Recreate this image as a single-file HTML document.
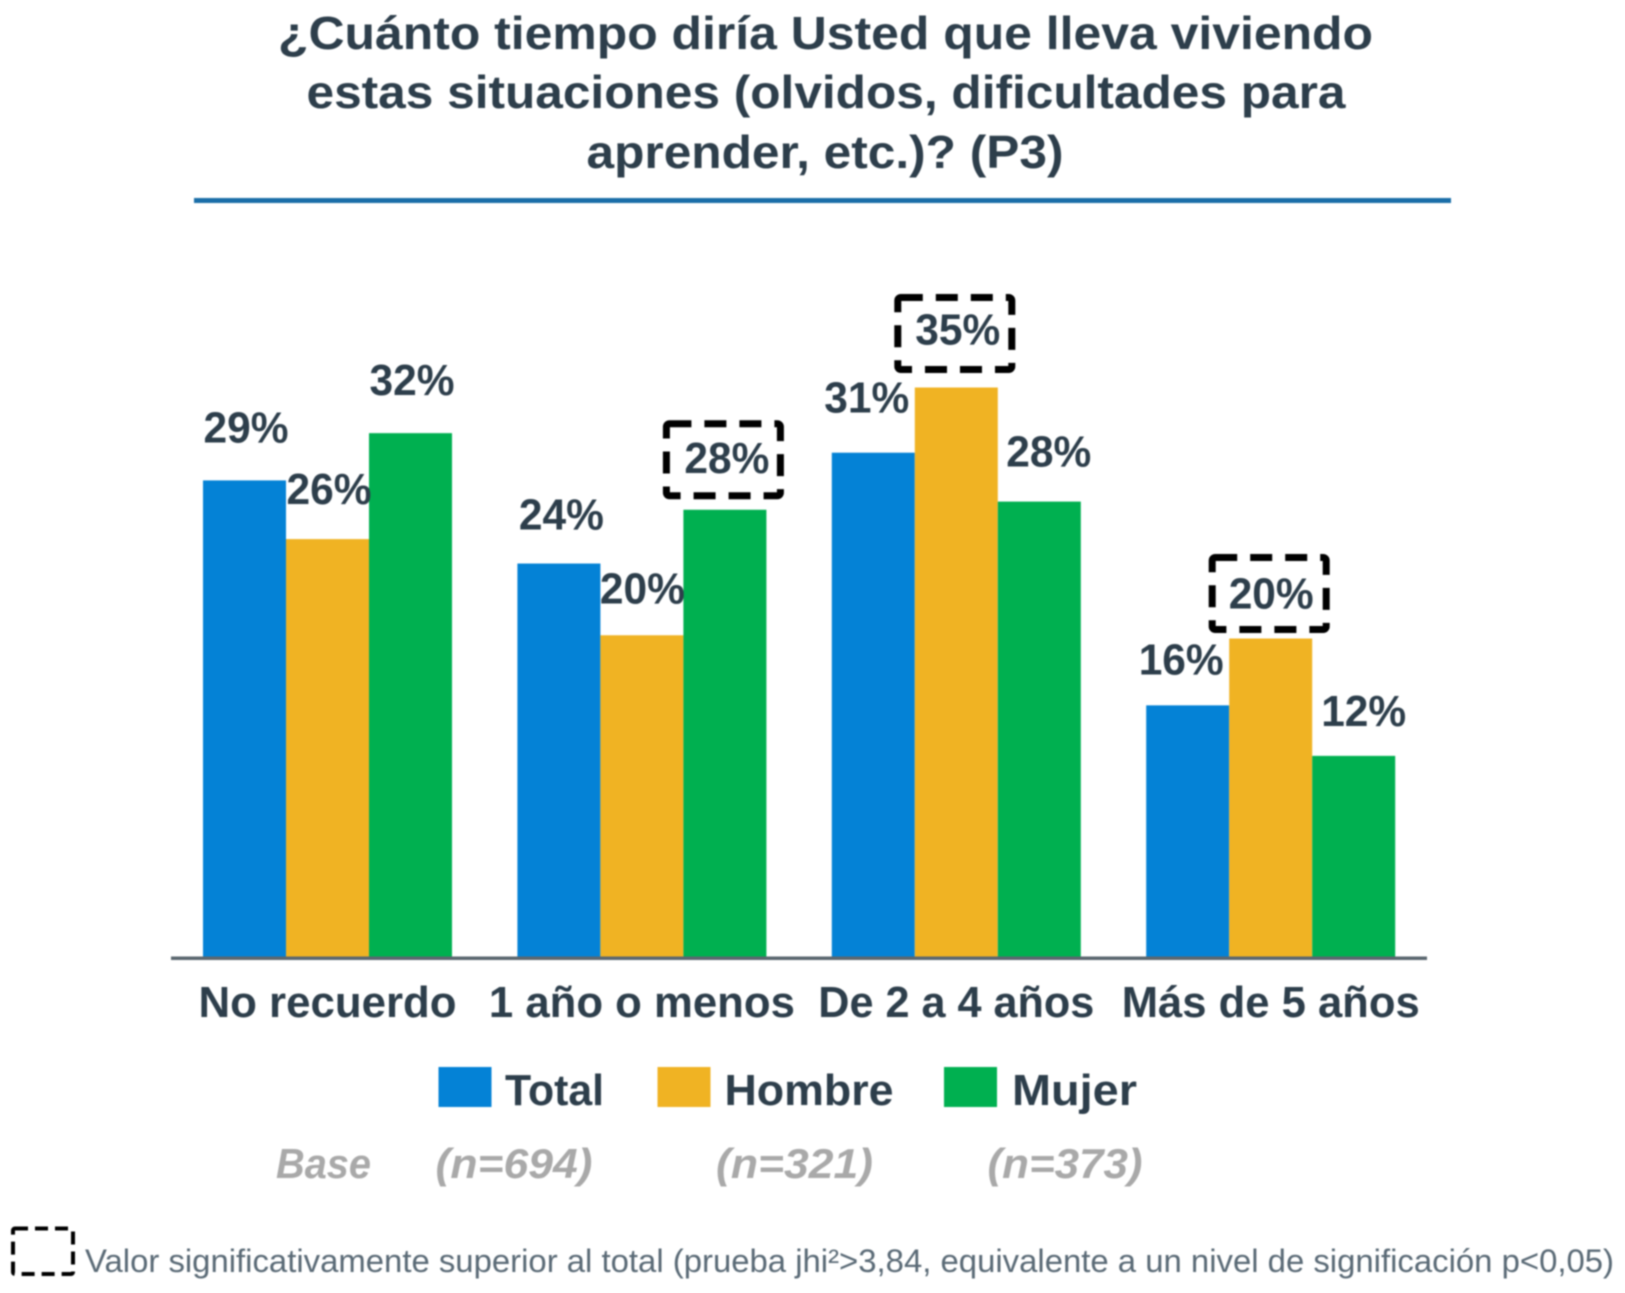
<!DOCTYPE html>
<html lang="es">
<head>
<meta charset="utf-8">
<title>¿Cuánto tiempo diría Usted que lleva viviendo estas situaciones?</title>
<style>
  html, body { margin: 0; padding: 0; background: #fff; }
  body { width: 1625px; height: 1293px; overflow: hidden; }
  svg { display: block; filter: blur(0.8px); }
  text { font-family: "Liberation Sans", sans-serif; }
  .title { font-size: 46px; font-weight: 700; fill: #2d3e4b; text-anchor: middle; }
  .value { font-size: 44px; font-weight: 700; fill: #2d3e4b; text-anchor: middle; }
  .cat { font-size: 44px; font-weight: 700; fill: #2d3e4b; text-anchor: middle; }
  .legend { font-size: 44px; font-weight: 700; fill: #2d3e4b; }
  .base { font-size: 42px; font-weight: 700; font-style: italic; fill: #a9a9a9; }
  .note { font-size: 32px; fill: #5a6a76; }
</style>
</head>
<body>
<svg id="chart" width="1625" height="1293" viewBox="0 0 1625 1293" xmlns="http://www.w3.org/2000/svg">
  <rect width="1625" height="1293" fill="#fff"/>
  <g>
    <text class="title" x="825.5" y="49" textLength="1095" lengthAdjust="spacingAndGlyphs">¿Cuánto tiempo diría Usted que lleva viviendo</text>
    <text class="title" x="826" y="108" textLength="1039" lengthAdjust="spacingAndGlyphs">estas situaciones (olvidos, dificultades para</text>
    <text class="title" x="825" y="168" textLength="477" lengthAdjust="spacingAndGlyphs">aprender, etc.)? (P3)</text>
  </g>
  <rect x="194" y="198" width="1257" height="5" fill="#1a6ea8"/>
  <g id="bars"></g>
  <rect x="171" y="956.5" width="1256" height="3.5" fill="#5b6770"/>
  <g id="categories"></g>
  <g id="values"></g>
  <g id="legend"></g>
  <g id="bases">
    <text class="base" x="276" y="1178" textLength="95" lengthAdjust="spacingAndGlyphs">Base</text>
  </g>
  <g>
    <rect x="13" y="1228.5" width="60" height="45.5" rx="2" fill="none" stroke="#000" stroke-width="4" stroke-dasharray="13 7"/>
    <text class="note" x="85" y="1272" textLength="1529" lengthAdjust="spacingAndGlyphs">Valor significativamente superior al total (prueba jhi²&gt;3,84, equivalente a un nivel de significación p&lt;0,05)</text>
  </g>
</svg>
<script>
const categories = ['No recuerdo', '1 año o menos', 'De 2 a 4 años', 'Más de 5 años'];
const seriesNames = ['Total', 'Hombre', 'Mujer'];
const seriesBases = ['(n=694)', '(n=321)', '(n=373)'];
const totalValues = [29.3, 24.2, 31.0, 15.5];
const hombreValues = [25.7, 19.8, 35.0, 19.6];
const mujerValues = [32.2, 27.5, 28.0, 12.4];
const hombreSignificant = [false, false, true, true];
const mujerSignificant = [false, true, false, false];
const totalSignificant = [false, false, false, false];

const NS = 'http://www.w3.org/2000/svg';
const colors = ['#0482d6', '#f0b323', '#00b050'];
const allValues = [totalValues, hombreValues, mujerValues];
const allSignificant = [totalSignificant, hombreSignificant, mujerSignificant];

// Axis functions
const baselineY = 958;
const pxPerPercent = 16.3;
const bandStart = 170.3;
const bandWidth = 314.4;
const barWidth = 83;
function yScale(v) { return baselineY - v * pxPerPercent; }
function bandCenter(i) { return bandStart + bandWidth * (i + 0.5); }
function barCenter(i, s) { return bandCenter(i) + (s - 1) * barWidth; }

// Hand-placed label offsets from the bar top/centre (layout only)
const labelShiftX = [[1.5, 2.5, -6.5, -6.5], [1.5, 0.5, 1.5, 0.5], [1.5, 2, 9.5, 10]];
const labelShiftY = [[-38, -34, -40, -31], [-35, -32, -43, -30], [-38, -37, -35, -30]];
const boxGap = [[0, 0, 0, 0], [0, 0, 15, 6], [0, 11, 0, 0]];
const catWidths = [258, 306, 276, 298];
const legendSwatchX = [438.5, 657.5, 944];
const legendTextX = [505, 724.5, 1012];
const legendTextW = [99, 169, 125];
const baseTextX = [435.5, 716, 987.5];
const baseTextW = [157, 157, 155];

function make(tag, attrs, text) {
  const el = document.createElementNS(NS, tag);
  for (const k in attrs) el.setAttribute(k, attrs[k]);
  if (text !== undefined) el.textContent = text;
  return el;
}

const barsG = document.getElementById('bars');
const valuesG = document.getElementById('values');
const catsG = document.getElementById('categories');
const legendG = document.getElementById('legend');
const basesG = document.getElementById('bases');

categories.forEach(function (cat, i) {
  const catEl = make('text', { class: 'cat', x: bandCenter(i), y: 1017, textLength: catWidths[i], lengthAdjust: 'spacingAndGlyphs' }, cat);
  
  
  catsG.appendChild(catEl);

  seriesNames.forEach(function (name, s) {
    const v = allValues[s][i];
    const top = yScale(v);
    const cx = barCenter(i, s);
    const bar = make('rect', { x: cx - barWidth / 2, y: top, width: barWidth, height: baselineY - top, fill: colors[s] });
    
    
    barsG.appendChild(bar);

    const label = make('text', { class: 'value', x: cx + labelShiftX[s][i], y: top + labelShiftY[s][i], textLength: 85, lengthAdjust: 'spacingAndGlyphs' }, Math.round(v) + '%');
    
    
    valuesG.appendChild(label);

    if (allSignificant[s][i]) {
      const box = make('rect', { x: cx - 1.5 - 57, y: top - boxGap[s][i] - 75, width: 114, height: 72, rx: 3, fill: 'none', stroke: '#000', 'stroke-width': 7, 'stroke-dasharray': '22 13' });
      
      
      valuesG.appendChild(box);
    }
  });
});

seriesNames.forEach(function (name, s) {
  const swatch = make('rect', { x: legendSwatchX[s], y: 1067, width: 53, height: 40, fill: colors[s] });
  
  
  legendG.appendChild(swatch);

  const txt = make('text', { class: 'legend', x: legendTextX[s], y: 1105, textLength: legendTextW[s], lengthAdjust: 'spacingAndGlyphs' }, name);
  
  
  legendG.appendChild(txt);

  const base = make('text', { class: 'base', x: baseTextX[s], y: 1178, textLength: baseTextW[s], lengthAdjust: 'spacingAndGlyphs' }, seriesBases[s]);
  
  
  basesG.appendChild(base);
});
</script>
</body>
</html>
